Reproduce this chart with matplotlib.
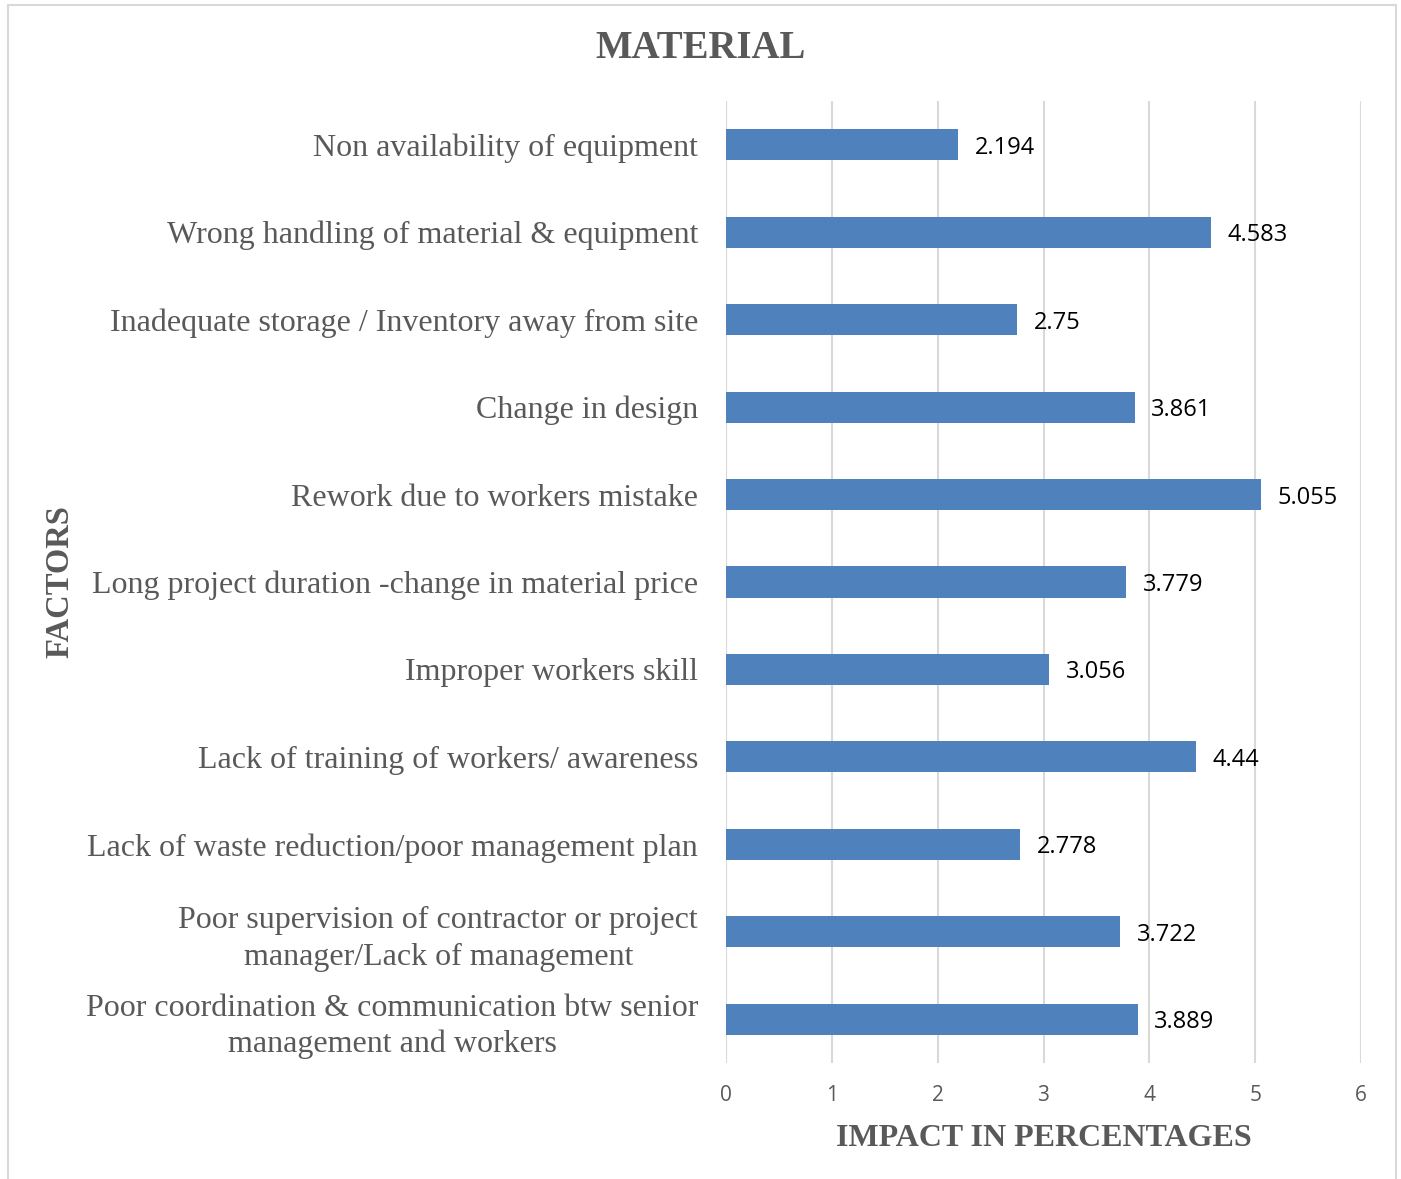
import matplotlib
matplotlib.use("Agg")
import matplotlib.pyplot as plt
from matplotlib.patches import Rectangle

factors = [
    "Non availability of equipment",
    "Wrong handling of material & equipment",
    "Inadequate storage / Inventory away from site",
    "Change in design",
    "Rework due to workers mistake",
    "Long project duration -change in material price",
    "Improper workers skill",
    "Lack of training of workers/ awareness",
    "Lack of waste reduction/poor management plan",
    "Poor supervision of contractor or project\nmanager/Lack of management",
    "Poor coordination & communication btw senior\nmanagement and workers",
]
impact = [2.194, 4.583, 2.75, 3.861, 5.055, 3.779, 3.056, 4.44, 2.778, 3.722, 3.889]
x_ticks = [0, 1, 2, 3, 4, 5, 6]

W, H = 1401, 1179
fig = plt.figure(figsize=(W / 100, H / 100), dpi=100)

# outer chart frame
fig.patches.append(Rectangle((8 / W, -0.05), (1396 - 8) / W, 1.05 - 5 / H,
                             transform=fig.transFigure, fill=False,
                             edgecolor="#D9D9D9", linewidth=1.5))

ax = fig.add_axes([726 / W, 1 - 1063 / H, (1361 - 726) / W, (1063 - 101) / H])

grey = "#595959"
serif = "Liberation Serif"
sans = "Open Sans"

ypos = list(range(len(factors)))
bars = ax.barh(ypos, impact, height=0.355, color="#4F81BD", zorder=3)
ax.set_ylim(len(factors) - 0.5, -0.5)
ax.set_xlim(0, 6)
ax.set_xticks(x_ticks)
ax.set_xticklabels([str(t) for t in x_ticks], fontfamily=sans, fontsize=15, color=grey)
ax.set_yticks(ypos)
ax.set_yticklabels(factors, fontfamily=serif, fontsize=23, color=grey,
                   multialignment="center", linespacing=1.33)
ax.tick_params(axis="x", length=0, pad=16)
ax.tick_params(axis="y", length=0, pad=20)
ax.grid(axis="x", color="#D9D9D9", linewidth=1.5, zorder=0)
for s in ax.spines.values():
    s.set_visible(False)

for b, v in zip(bars, impact):
    ax.annotate(f"{v:g}", (v, b.get_y() + b.get_height() / 2),
                xytext=(12, 0), textcoords="offset points",
                va="center_baseline", ha="left", fontfamily=sans, fontsize=17,
                color="black")

ax.set_xlabel("IMPACT IN PERCENTAGES", fontfamily=serif, fontweight="bold",
              fontsize=23, color=grey, labelpad=13)
fig.text(60 / W, 1 - 582 / H, "FACTORS", rotation=90, ha="center", va="center",
         fontfamily=serif, fontweight="bold", fontsize=23.5, color=grey)
fig.text(0.5, 1 - 48 / H, "MATERIAL", ha="center", va="center",
         fontfamily=serif, fontweight="bold", fontsize=28, color=grey)

fig.savefig("out.png", dpi=100)
